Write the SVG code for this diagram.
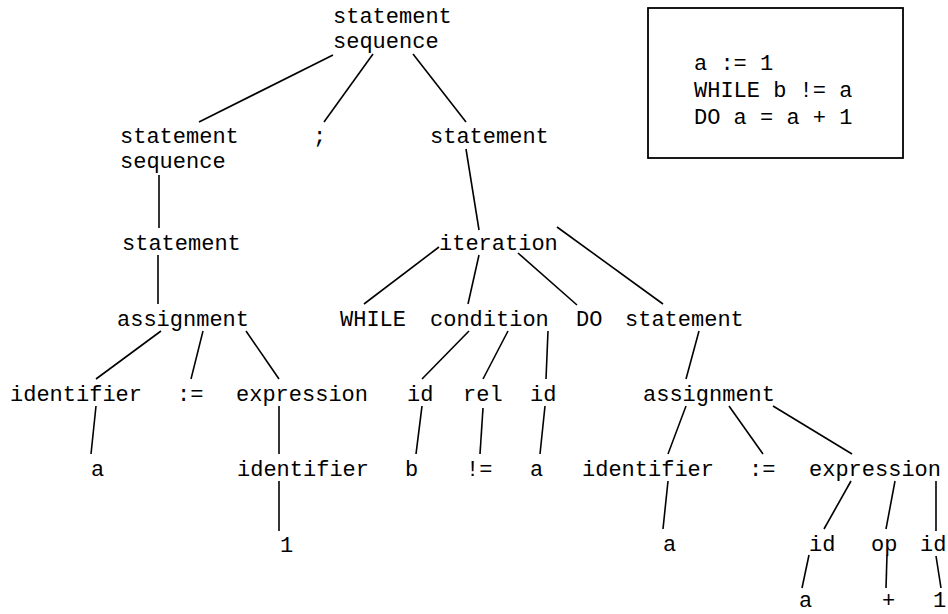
<svg xmlns="http://www.w3.org/2000/svg" width="948" height="614" viewBox="0 0 948 614">
  <style>
    text { font-family: "Liberation Mono", "Courier New", monospace; font-size: 22px; fill: #000; }
    .edge { stroke: #000; stroke-width: 1.6; fill: none; stroke-linecap: butt; }
    .box { fill: #fff; stroke: #000; stroke-width: 1.8; }
  </style>
  <rect width="948" height="614" fill="#fff"/>

  <!-- source program -->
  <g id="source">
    <rect class="box" x="648" y="8" width="255" height="150"/>
    <text x="694" y="70">a := 1</text>
    <text x="694" y="97">WHILE b != a</text>
    <text x="694" y="124">DO a = a + 1</text>
  </g>

  <!-- parse tree edges -->
  <g id="connectors">
    <line class="edge" x1="333" y1="55" x2="199" y2="122"/>
    <line class="edge" x1="373" y1="54" x2="324" y2="122"/>
    <line class="edge" x1="413" y1="54" x2="466" y2="122"/>
    <line class="edge" x1="159" y1="175" x2="159" y2="228"/>
    <line class="edge" x1="466" y1="149" x2="479" y2="230"/>
    <line class="edge" x1="158" y1="255" x2="158" y2="304"/>
    <line class="edge" x1="439" y1="247" x2="364" y2="304"/>
    <line class="edge" x1="479" y1="255" x2="468" y2="304"/>
    <line class="edge" x1="518" y1="253" x2="577" y2="305"/>
    <line class="edge" x1="557" y1="227" x2="663" y2="304"/>
    <line class="edge" x1="161" y1="331" x2="96" y2="379"/>
    <line class="edge" x1="203" y1="331" x2="191" y2="379"/>
    <line class="edge" x1="246" y1="331" x2="279" y2="379"/>
    <line class="edge" x1="96" y1="406" x2="91" y2="454"/>
    <line class="edge" x1="279" y1="406" x2="279" y2="454"/>
    <line class="edge" x1="279" y1="481" x2="279" y2="531"/>
    <line class="edge" x1="469" y1="331" x2="422" y2="379"/>
    <line class="edge" x1="508" y1="331" x2="483" y2="379"/>
    <line class="edge" x1="548" y1="331" x2="546" y2="379"/>
    <line class="edge" x1="422" y1="406" x2="416" y2="454"/>
    <line class="edge" x1="483" y1="408" x2="480" y2="454"/>
    <line class="edge" x1="545" y1="406" x2="540" y2="454"/>
    <line class="edge" x1="699" y1="331" x2="686" y2="379"/>
    <line class="edge" x1="686" y1="406" x2="668" y2="454"/>
    <line class="edge" x1="729" y1="406" x2="763" y2="454"/>
    <line class="edge" x1="773" y1="406" x2="852" y2="454"/>
    <line class="edge" x1="668" y1="481" x2="663" y2="529"/>
    <line class="edge" x1="851" y1="481" x2="824" y2="529"/>
    <line class="edge" x1="895" y1="481" x2="886" y2="529"/>
    <line class="edge" x1="936" y1="481" x2="936" y2="531"/>
    <line class="edge" x1="809" y1="555" x2="802" y2="588"/>
    <line class="edge" x1="887" y1="555" x2="886" y2="588"/>
    <line class="edge" x1="936" y1="556" x2="941" y2="588"/>
  </g>

  <!-- parse tree nodes -->
  <g id="n-root"><text x="333" y="23">statement</text><text x="333" y="48">sequence</text></g>
  <g id="n-seq"><text x="120" y="143">statement</text><text x="120" y="168">sequence</text></g>
  <g id="n-semi"><text x="313" y="143">;</text></g>
  <g id="n-stmt"><text x="430" y="143">statement</text></g>
  <g id="n-stmt1"><text x="122" y="250">statement</text></g>
  <g id="n-iter"><text x="439" y="250">iteration</text></g>
  <g id="n-assign1"><text x="117" y="326">assignment</text></g>
  <g id="n-while"><text x="340" y="326">WHILE</text></g>
  <g id="n-cond"><text x="430" y="326">condition</text></g>
  <g id="n-do"><text x="576" y="326">DO</text></g>
  <g id="n-stmt2"><text x="625" y="326">statement</text></g>
  <g id="n-ident1"><text x="10" y="401">identifier</text></g>
  <g id="n-becomes1"><text x="177" y="401">:=</text></g>
  <g id="n-expr1"><text x="236" y="401">expression</text></g>
  <g id="n-id-b"><text x="407" y="401">id</text></g>
  <g id="n-rel"><text x="463" y="401">rel</text></g>
  <g id="n-id-a"><text x="530" y="401">id</text></g>
  <g id="n-assign2"><text x="643" y="401">assignment</text></g>
  <g id="n-a1"><text x="91" y="476">a</text></g>
  <g id="n-ident2"><text x="237" y="476">identifier</text></g>
  <g id="n-b"><text x="405" y="476">b</text></g>
  <g id="n-ne"><text x="466" y="476">!=</text></g>
  <g id="n-a2"><text x="530" y="476">a</text></g>
  <g id="n-ident3"><text x="582" y="476">identifier</text></g>
  <g id="n-becomes2"><text x="749" y="476">:=</text></g>
  <g id="n-expr2"><text x="809" y="476">expression</text></g>
  <g id="n-one1"><text x="280" y="552">1</text></g>
  <g id="n-a3"><text x="663" y="551">a</text></g>
  <g id="n-id-x"><text x="809" y="551">id</text></g>
  <g id="n-op"><text x="871" y="551">op</text></g>
  <g id="n-id-y"><text x="920" y="551">id</text></g>
  <g id="n-a4"><text x="799" y="607">a</text></g>
  <g id="n-plus"><text x="882" y="607">+</text></g>
  <g id="n-one2"><text x="933" y="607">1</text></g>
</svg>
